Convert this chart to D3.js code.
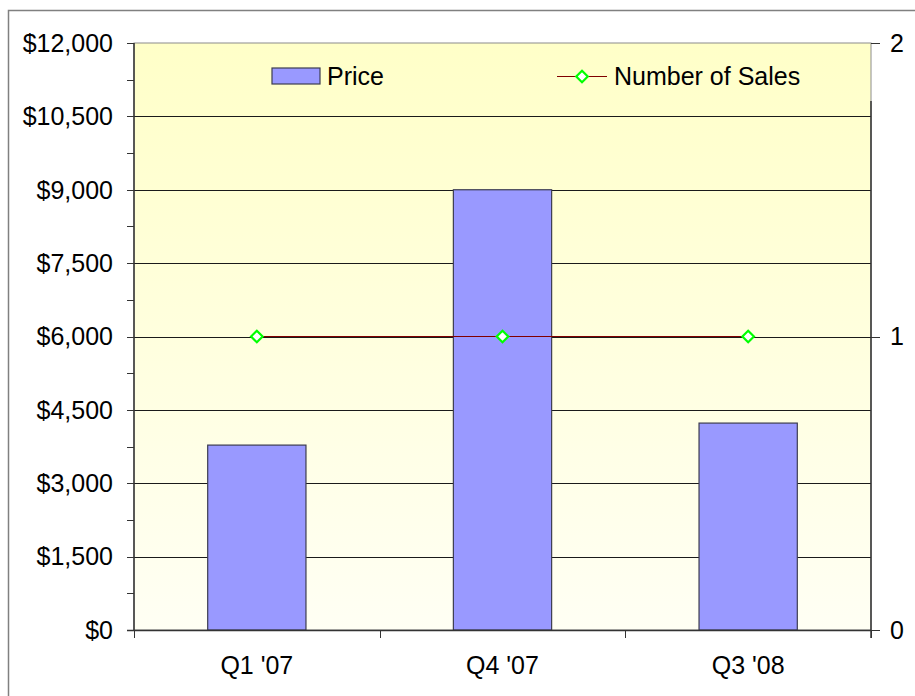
<!DOCTYPE html>
<html>
<head>
<meta charset="utf-8">
<script src="https://cdn.jsdelivr.net/npm/d3@7"></script>
<style>
  body { margin: 0; background: #fff; }
  text { font-family: "Liberation Sans", Arial, sans-serif; fill: #000; }
</style>
</head>
<body>
<svg id="chart" width="915" height="696"></svg>
<script>
// data
const quarters = ["Q1 '07", "Q4 '07", "Q3 '08"];
const price = [3780, 9000, 4230];
const sales = [1, 1, 1];
const priceTicks = [0, 1500, 3000, 4500, 6000, 7500, 9000, 10500, 12000];
const salesTicks = [0, 1, 2];

const svg = d3.select("#chart");
const m = { left: 134, right: 871, top: 43, bottom: 630 };
const fs = 25;

// outer frame
svg.append("rect")
  .attr("x", 8.5).attr("y", 10.5)
  .attr("width", 920).attr("height", 700)
  .attr("fill", "#fff").attr("stroke", "#808080").attr("stroke-width", 1.5);

const defs = svg.append("defs");
const grad = defs.append("linearGradient").attr("id", "bg")
  .attr("x1", 0).attr("y1", 0).attr("x2", 0).attr("y2", 1);
grad.append("stop").attr("offset", "0%").attr("stop-color", "#ffffc8");
grad.append("stop").attr("offset", "100%").attr("stop-color", "#fffff4");

const x = d3.scaleBand().domain(quarters).range([m.left, m.right]);
const y = d3.scaleLinear().domain([0, 12000]).range([m.bottom, m.top]);
const y2 = d3.scaleLinear().domain([0, 2]).range([m.bottom, m.top]);

// plot area
svg.append("rect")
  .attr("x", m.left).attr("y", m.top)
  .attr("width", m.right - m.left).attr("height", m.bottom - m.top)
  .attr("fill", "url(#bg)").attr("stroke", "#8c8c8c").attr("stroke-width", 1);

// gridlines
svg.append("g")
  .selectAll("line")
  .data(priceTicks.filter(d => d > 0 && d < 12000))
  .enter()
  .append("line")
  .attr("x1", m.left).attr("x2", m.right)
  .attr("y1", d => Math.round(y(d)) + 0.5).attr("y2", d => Math.round(y(d)) + 0.5)
  .attr("stroke", "#1a1a1a").attr("stroke-width", 1);

// bars
const bw = x.bandwidth() * 0.4;
svg.append("g")
  .selectAll("rect")
  .data(price)
  .enter()
  .append("rect")
  .attr("x", (d, i) => x(quarters[i]) + (x.bandwidth() - bw) / 2)
  .attr("y", d => y(d))
  .attr("width", bw)
  .attr("height", d => y(0) - y(d))
  .attr("fill", "#9999ff")
  .attr("stroke", "#3c3c50").attr("stroke-width", 1.2);

// left axis
const left = svg.append("g").attr("transform", `translate(${m.left},0)`);
left.append("line").attr("y1", m.top).attr("y2", m.bottom).attr("stroke", "#333").attr("stroke-width", 1.5);
left.selectAll(".minor")
  .data(d3.range(0, 12001, 750))
  .enter()
  .append("line")
  .attr("x1", -7).attr("x2", 0)
  .attr("y1", d => Math.round(y(d)) + 0.5).attr("y2", d => Math.round(y(d)) + 0.5)
  .attr("stroke", "#333");
left.selectAll("text")
  .data(priceTicks)
  .enter()
  .append("text")
  .attr("x", -21)
  .attr("y", d => y(d))
  .attr("dy", "0.35em")
  .attr("text-anchor", "end")
  .attr("font-size", fs)
  .text(d => "$" + d3.format(",")(d));

// right axis (legend box hides its top part)
const right = svg.append("g").attr("transform", `translate(${m.right},0)`);
right.append("line").attr("y1", 101).attr("y2", m.bottom + 8).attr("stroke", "#333").attr("stroke-width", 1.5);
right.selectAll(".tick")
  .data(salesTicks)
  .enter()
  .append("line")
  .attr("x1", 0).attr("x2", 9)
  .attr("y1", d => Math.round(y2(d)) + 0.5).attr("y2", d => Math.round(y2(d)) + 0.5)
  .attr("stroke", "#333");
right.selectAll("text")
  .data(salesTicks)
  .enter()
  .append("text")
  .attr("x", 19)
  .attr("y", d => y2(d))
  .attr("dy", "0.35em")
  .attr("font-size", fs)
  .text(d => d);

// bottom axis
const bottom = svg.append("g");
bottom.append("line").attr("x1", m.left - 7).attr("x2", m.right)
  .attr("y1", m.bottom + 0.5).attr("y2", m.bottom + 0.5).attr("stroke", "#333").attr("stroke-width", 1.5);
bottom.selectAll(".tick")
  .data(quarters.map(q => x(q)).concat([m.right]))
  .enter()
  .append("line")
  .attr("x1", d => Math.round(d) + 0.5).attr("x2", d => Math.round(d) + 0.5)
  .attr("y1", m.bottom).attr("y2", m.bottom + 8)
  .attr("stroke", "#333");
bottom.selectAll("text")
  .data(quarters)
  .enter()
  .append("text")
  .attr("x", d => x(d) + x.bandwidth() / 2)
  .attr("y", 674)
  .attr("text-anchor", "middle")
  .attr("font-size", fs)
  .text(d => d);

// number of sales line + markers
const cx = (d, i) => x(quarters[i]) + x.bandwidth() / 2;
const line = d3.line().x(cx).y(d => y2(d));
svg.append("path")
  .datum(sales)
  .attr("d", line)
  .attr("fill", "none")
  .attr("stroke", "#800000").attr("stroke-width", 1);
const diamond = d3.symbol().type(d3.symbolDiamond2).size(85);
svg.append("g")
  .selectAll("path")
  .data(sales)
  .enter()
  .append("path")
  .attr("d", diamond)
  .attr("transform", (d, i) => `translate(${cx(d, i)},${y2(d)})`)
  .attr("fill", "#ffffff")
  .attr("stroke", "#00ff00").attr("stroke-width", 2.2);

// legend
const lg = svg.append("g");
lg.append("rect")
  .attr("x", 272).attr("y", 68).attr("width", 48).attr("height", 16)
  .attr("fill", "#9999ff").attr("stroke", "#3c3c50").attr("stroke-width", 1.2);
lg.append("text").attr("x", 327).attr("y", 76).attr("dy", "0.35em").attr("font-size", fs).text("Price");
lg.append("line").attr("x1", 557).attr("x2", 607).attr("y1", 76.5).attr("y2", 76.5)
  .attr("stroke", "#800000").attr("stroke-width", 1);
lg.append("path").attr("d", diamond).attr("transform", "translate(582,76.5)")
  .attr("fill", "#ffffff").attr("stroke", "#00ff00").attr("stroke-width", 2.2);
lg.append("text").attr("x", 614).attr("y", 76).attr("dy", "0.35em").attr("font-size", fs).text("Number of Sales");
</script>
</body>
</html>
